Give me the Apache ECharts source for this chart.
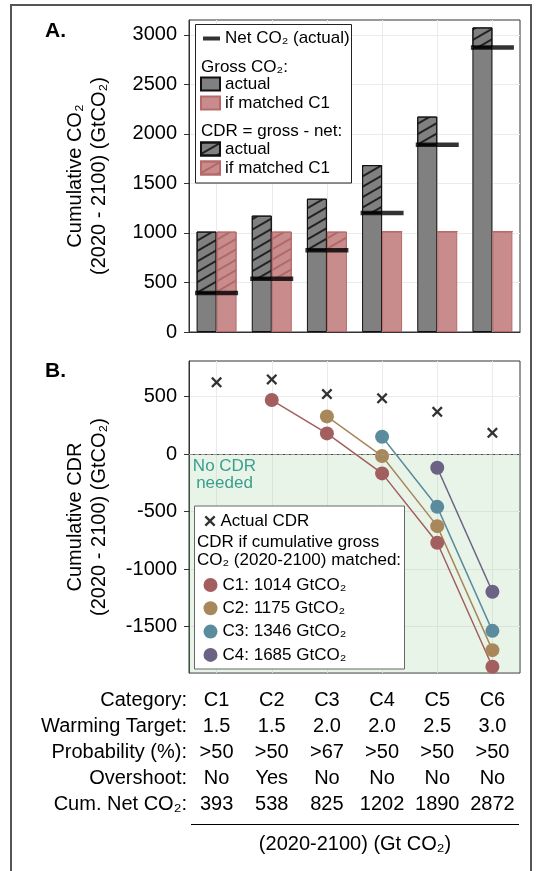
<!DOCTYPE html>
<html>
<head>
<meta charset="utf-8">
<script src="https://cdn.jsdelivr.net/npm/echarts@6/dist/echarts.min.js"></script>
<style>
html,body{margin:0;padding:0;background:#fff;}
#main{width:536px;height:871px;}
</style>
</head>
<body>
<div id="main"></div>
<script>
// table / categories
var categories = ['C1', 'C2', 'C3', 'C4', 'C5', 'C6'];
var warming = ['1.5', '1.5', '2.0', '2.0', '2.5', '3.0'];
var probability = ['>50', '>50', '>67', '>50', '>50', '>50'];
var overshoot = ['No', 'Yes', 'No', 'No', 'No', 'No'];
var netCO2 = [393, 538, 825, 1202, 1890, 2872];

// panel A
var grossCO2 = [1014, 1175, 1346, 1685, 2175, 3075];
var grossC1 = 1014;
var yTicksA = [0, 500, 1000, 1500, 2000, 2500, 3000];

// panel B
var actualCDR = [624, 650, 522, 485, 368, 185];
var cdrIfC1 = [null, 470, 180, -168, -772, -1851];
var cdrIfC2 = [null, null, 328, -17, -627, -1706];
var cdrIfC3 = [null, null, null, 151, -459, -1538];
var cdrIfC4 = [null, null, null, null, -119, -1198];
var matchNames = ['C1: 1014 GtCO₂', 'C2: 1175 GtCO₂', 'C3: 1346 GtCO₂', 'C4: 1685 GtCO₂'];
var matchColors = ['#a35f60', '#a8875a', '#5b8c9e', '#6c6283'];
var yTicksB = [-1500, -1000, -500, 0, 500];

var rowLabels = ['Category:', 'Warming Target:', 'Probability (%):', 'Overshoot:', 'Cum. Net CO₂:'];

var FONT = '"Liberation Sans", Arial, sans-serif';

// stacked pieces
var graySolid = [], grayHatch = [], pinkSolid = [], pinkHatch = [];
for (var i = 0; i < categories.length; i++) {
  graySolid.push(netCO2[i]);
  grayHatch.push(grossCO2[i] - netCO2[i]);
  pinkSolid.push(Math.min(netCO2[i], grossC1));
  pinkHatch.push(Math.max(0, grossC1 - netCO2[i]));
}

function hatch(color) {
  return {
    symbol: 'rect', symbolSize: 1, color: color,
    dashArrayX: [1, 0], dashArrayY: [1.3, 6.5], rotation: -Math.PI / 6
  };
}

var legendLabels = {
  'gross actual': 'actual', 'gross C1': 'if matched C1',
  'cdr actual': 'actual', 'cdr C1': 'if matched C1'
};

var grayStyle = { color: '#808080', borderColor: '#111', borderWidth: 1 };
var pinkStyle = { color: '#c98c8c', borderColor: '#b86a6a', borderWidth: 1 };

var crossPath = 'path://M0,1.5L1.5,0L5,3.5L8.5,0L10,1.5L6.5,5L10,8.5L8.5,10L5,6.5L1.5,10L0,8.5L3.5,5Z';

var plain = function (v) { return String(v); };

var chart = echarts.init(document.getElementById('main'));

var lineSeries = [cdrIfC1, cdrIfC2, cdrIfC3, cdrIfC4].map(function (d, k) {
  return {
    name: matchNames[k], type: 'line', xAxisIndex: 1, yAxisIndex: 1,
    data: d, symbol: 'circle', symbolSize: 14, z: 3,
    lineStyle: { color: matchColors[k], width: 1.5 },
    itemStyle: { color: matchColors[k] },
    emphasis: { disabled: true }
  };
});

var option = {
  animation: false,
  textStyle: { fontFamily: FONT },
  grid: [
    { left: 189, right: 16, top: 20, height: 312, show: true, borderColor: '#333', borderWidth: 1, backgroundColor: 'transparent' },
    { left: 189, right: 16, top: 361, height: 312, show: true, borderColor: '#333', borderWidth: 1, backgroundColor: 'transparent' }
  ],
  xAxis: [
    {
      type: 'category', gridIndex: 0, data: categories,
      axisLine: { lineStyle: { color: '#333' } },
      axisTick: { alignWithLabel: true, length: 5, lineStyle: { color: '#333' } },
      axisLabel: { show: false },
      splitLine: { show: true, alignWithLabel: true, lineStyle: { color: '#ebebeb' } }
    },
    {
      type: 'category', gridIndex: 1, data: categories,
      axisLine: { lineStyle: { color: '#333' } },
      axisTick: { alignWithLabel: true, length: 5, lineStyle: { color: '#333' } },
      axisLabel: {
        interval: 0, margin: 14, fontSize: 20, lineHeight: 26, color: '#000',
        formatter: function (v, idx) {
          return [categories[idx], warming[idx], probability[idx], overshoot[idx], netCO2[idx]].join('\n');
        }
      },
      splitLine: { show: true, alignWithLabel: true, lineStyle: { color: '#ebebeb' } }
    }
  ],
  yAxis: [
    {
      type: 'value', gridIndex: 0, min: 0, max: 3150,
      name: 'Cumulative CO₂\n(2020 - 2100) (GtCO₂)', nameLocation: 'middle', nameRotate: 90, nameGap: 78,
      nameTextStyle: { fontSize: 20, lineHeight: 24, color: '#000' },
      axisLine: { show: true, lineStyle: { color: '#333' } },
      axisTick: { show: true, length: 5, customValues: yTicksA, lineStyle: { color: '#333' } },
      axisLabel: { customValues: yTicksA, fontSize: 20, color: '#000', margin: 12, formatter: plain },
      splitLine: { lineStyle: { color: '#ebebeb' } }
    },
    {
      type: 'value', gridIndex: 1, min: -1905, max: 810,
      name: 'Cumulative CDR\n(2020 - 2100) (GtCO₂)', nameLocation: 'middle', nameRotate: 90, nameGap: 78,
      nameTextStyle: { fontSize: 20, lineHeight: 24, color: '#000' },
      axisLine: { show: true, lineStyle: { color: '#333' } },
      axisTick: { show: true, length: 5, customValues: yTicksB, lineStyle: { color: '#333' } },
      axisLabel: { customValues: yTicksB, fontSize: 20, color: '#000', margin: 12, formatter: plain },
      splitLine: { lineStyle: { color: '#ebebeb' } }
    }
  ],
  legend: [
    {
      data: [{ name: 'Net CO₂ (actual)', icon: 'rect' }], left: 203, top: 30, padding: 0,
      itemWidth: 17, itemHeight: 4, selectedMode: false, z: 6,
      textStyle: { fontSize: 17, color: '#000', fontFamily: FONT }
    },
    {
      data: [{ name: 'gross actual', icon: 'rect' }, { name: 'gross C1', icon: 'rect' }],
      orient: 'vertical', left: 200, top: 75, padding: 0,
      itemWidth: 19, itemHeight: 13, itemGap: 1, selectedMode: false, z: 6,
      formatter: function (n) { return legendLabels[n]; },
      textStyle: { fontSize: 17, lineHeight: 18, color: '#000', fontFamily: FONT }
    },
    {
      data: [{ name: 'cdr actual', icon: 'rect' }, { name: 'cdr C1', icon: 'rect' }],
      orient: 'vertical', left: 200, top: 140, padding: 0,
      itemWidth: 19, itemHeight: 13, itemGap: 1, selectedMode: false, z: 6,
      formatter: function (n) { return legendLabels[n]; },
      textStyle: { fontSize: 17, lineHeight: 18, color: '#000', fontFamily: FONT }
    },
    {
      data: ['Actual CDR'], left: 204.5, top: 512, padding: 0,
      itemWidth: 11, itemHeight: 11, selectedMode: false, z: 6,
      textStyle: { fontSize: 17, lineHeight: 18, color: '#000', fontFamily: FONT }
    },
    {
      data: matchNames, orient: 'vertical', left: 203.5, top: 576, padding: 0,
      itemWidth: 14, itemHeight: 14, itemGap: 5.3, icon: 'circle', selectedMode: false, z: 6,
      textStyle: { fontSize: 17, lineHeight: 18, color: '#000', fontFamily: FONT }
    }
  ],
  series: [
    { name: 'gross actual', type: 'bar', stack: 'gray', data: graySolid, barWidth: 20, barGap: '0%', itemStyle: grayStyle, emphasis: { disabled: true } },
    { name: 'cdr actual', type: 'bar', stack: 'gray', data: grayHatch, barWidth: 20, barGap: '0%', itemStyle: Object.assign({ decal: hatch('#222') }, grayStyle), emphasis: { disabled: true } },
    { name: 'gross C1', type: 'bar', stack: 'pink', data: pinkSolid, barWidth: 20, barGap: '0%', itemStyle: pinkStyle, emphasis: { disabled: true } },
    { name: 'cdr C1', type: 'bar', stack: 'pink', data: pinkHatch, barWidth: 20, barGap: '0%', itemStyle: Object.assign({ decal: hatch('#b06868') }, pinkStyle), emphasis: { disabled: true } },
    {
      name: 'Net CO₂ (actual)', type: 'scatter', data: netCO2, symbol: 'rect', symbolSize: [43, 4.5],
      itemStyle: { color: '#000' }, z: 5, emphasis: { disabled: true }
    },
    {
      name: 'Actual CDR', type: 'scatter', xAxisIndex: 1, yAxisIndex: 1, data: actualCDR,
      symbol: crossPath, symbolSize: 11, itemStyle: { color: '#000' }, z: 2, emphasis: { disabled: true },
      markArea: {
        silent: true,
        itemStyle: { color: 'rgba(140,200,140,0.2)' },
        label: { show: false },
        data: [[{ yAxis: 0 }, { yAxis: -1905 }]]
      },
      markLine: {
        silent: true, symbol: 'none', label: { show: false },
        lineStyle: { color: '#999', type: 'dashed', width: 1 },
        data: [{ yAxis: 0 }]
      }
    }
  ].concat(lineSeries),
  graphic: [
    { type: 'rect', silent: true, z: 0, shape: { x: 11, y: 5, width: 520, height: 900 }, style: { fill: 'none', stroke: '#555', lineWidth: 2 } },
    { type: 'text', silent: true, z: 6, style: { x: 45, y: 31, text: 'A.', font: 'bold 21px ' + FONT, fill: '#000', align: 'left', verticalAlign: 'middle', textAlign: 'left', textVerticalAlign: 'middle' } },
    { type: 'text', silent: true, z: 6, style: { x: 45, y: 371, text: 'B.', font: 'bold 21px ' + FONT, fill: '#000', align: 'left', verticalAlign: 'middle', textAlign: 'left', textVerticalAlign: 'middle' } },
    { type: 'text', silent: true, z: 4, style: { x: 224.5, y: 457.5, text: 'No CDR\nneeded', font: '17px ' + FONT, lineHeight: 17, fill: '#3a9e8c', align: 'center', verticalAlign: 'top', textAlign: 'center', textVerticalAlign: 'top' } },
    // legend boxes
    { type: 'rect', silent: true, z: 5, shape: { x: 195.5, y: 24.5, width: 156, height: 158.5 }, style: { fill: '#fff', stroke: '#222', lineWidth: 1 } },
    { type: 'text', silent: true, z: 6, style: { x: 201, y: 67, text: 'Gross CO₂:', font: '17px ' + FONT, fill: '#000', align: 'left', verticalAlign: 'middle', textAlign: 'left', textVerticalAlign: 'middle' } },
    { type: 'text', silent: true, z: 6, style: { x: 201, y: 131, text: 'CDR = gross - net:', font: '17px ' + FONT, fill: '#000', align: 'left', verticalAlign: 'middle', textAlign: 'left', textVerticalAlign: 'middle' } },
    { type: 'rect', silent: true, z: 5, shape: { x: 194.5, y: 506, width: 210, height: 163 }, style: { fill: '#fff', stroke: '#666', lineWidth: 1 } },
    { type: 'text', silent: true, z: 6, style: { x: 197, y: 533, text: 'CDR if cumulative gross\nCO₂ (2020-2100) matched:', font: '17px ' + FONT, lineHeight: 18, fill: '#000', align: 'left', verticalAlign: 'top', textAlign: 'left', textVerticalAlign: 'top' } },
    // table row labels
    { type: 'text', silent: true, z: 6, style: { x: 187, y: 687, text: rowLabels.join('\n'), font: '20px ' + FONT, lineHeight: 26, fill: '#000', align: 'right', verticalAlign: 'top', textAlign: 'right', textVerticalAlign: 'top' } },
    { type: 'line', silent: true, z: 6, shape: { x1: 191, y1: 824.5, x2: 519, y2: 824.5 }, style: { stroke: '#000', lineWidth: 1 } },
    { type: 'text', silent: true, z: 6, style: { x: 355, y: 844, text: '(2020-2100) (Gt CO₂)', font: '20px ' + FONT, fill: '#000', align: 'center', verticalAlign: 'middle', textAlign: 'center', textVerticalAlign: 'middle' } }
  ]
};

chart.setOption(option);
</script>
</body>
</html>
